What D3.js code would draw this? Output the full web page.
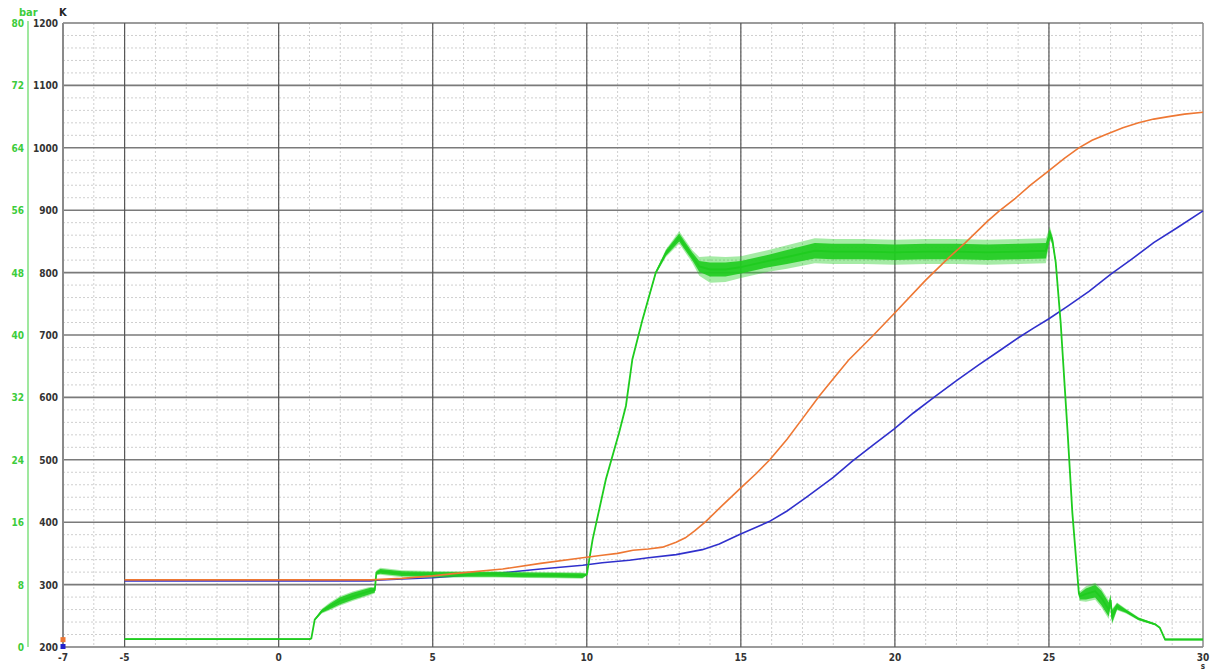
<!DOCTYPE html>
<html>
<head>
<meta charset="utf-8">
<script src="https://cdn.jsdelivr.net/npm/d3@7"></script>
<style>
  body { margin: 0; background: #fff; }
  text { font-family: "DejaVu Sans Condensed", "DejaVu Sans", sans-serif; font-weight: bold; font-size: 10px; }
</style>
</head>
<body>
<svg id="chart" width="1210" height="670"></svg>
<script>
// x axis (s)
const xTickLabels = [-7, -5, 0, 5, 10, 15, 20, 25, 30];
// left axes
const kelvinTicks = [200, 300, 400, 500, 600, 700, 800, 900, 1000, 1100, 1200];
const barTicks = [0, 8, 16, 24, 32, 40, 48, 56, 64, 72, 80];

// orange temperature (K)
const orangeTime = [-5, 3, 4, 5, 5.76, 7.27, 8.5, 9.87, 10.5, 11, 11.5, 12, 12.46, 12.9, 13.2, 13.5, 13.86, 14.4, 15, 15.5, 15.94, 16.5, 17, 17.54, 18, 18.5, 19.27, 19.97, 21, 21.75, 22.29, 23, 23.37, 23.91, 24.4, 24.94, 25.5, 25.97, 26.4, 26.83, 27.4, 27.91, 28.4, 28.88, 29.4, 30];
const orangeTemp = [307.5, 307.5, 310, 314, 318, 325, 334, 343, 347, 350, 355, 357, 360, 368, 375, 386, 401, 427, 455, 478, 500, 533, 566, 602, 630, 660, 698, 734, 788, 824, 848, 882, 898, 919, 940, 961, 983, 1000, 1012, 1021, 1032, 1040, 1046, 1050, 1054, 1057];

// blue temperature (K)
const blueTime = [-5, 3, 3.17, 4, 5, 6, 7.27, 8.5, 9.87, 10.5, 11.38, 12, 12.9, 13.75, 14.3, 14.94, 15.92, 16.5, 17.1, 17.54, 18, 18.62, 19.3, 19.97, 20.6, 21.32, 22, 22.72, 23.37, 24.02, 24.5, 25, 25.6, 26.3, 27, 27.7, 28.4, 29.2, 30];
const blueTemp = [306, 306, 307, 309, 311, 314.5, 319, 325, 331, 335, 339, 343, 348, 356, 365, 380, 401, 418, 439, 455, 472, 498, 524, 549, 575, 602, 627, 652, 674, 696, 711, 726, 746, 770, 797, 822, 848, 873, 899];

// green pressure (bar): middle of the trace, half-width of the dense noise, half-width of the spikes
const pressureTime = [-5, 1.0, 1.06, 1.17, 1.4, 1.66, 1.98, 2.4, 2.95, 3.12, 3.17, 3.3, 4, 5, 6, 7, 8, 9, 9.86, 10.0, 10.19, 10.62, 11.05, 11.27, 11.48, 11.81, 12.24, 12.57, 13.0, 13.42, 13.65, 14.0, 14.5, 15.0, 15.9, 16.5, 17.4, 18, 19, 20, 21, 22, 23, 24, 24.9, 25.03, 25.11, 25.22, 25.38, 25.6, 25.76, 25.97, 26.0, 26.2, 26.5, 26.7, 26.94, 27.0, 27.05, 27.21, 27.5, 27.91, 28.45, 28.6, 28.77, 30];
const pressureMid = [1.0, 1.0, 1.1, 3.5, 4.6, 5.2, 5.9, 6.5, 7.15, 7.3, 9.5, 9.7, 9.4, 9.3, 9.3, 9.3, 9.25, 9.2, 9.15, 9.3, 13.8, 21.5, 27.5, 30.9, 36.9, 42, 48, 50.5, 52.5, 50.1, 48.8, 48.4, 48.4, 48.7, 49.5, 50.0, 50.8, 50.7, 50.7, 50.6, 50.7, 50.7, 50.6, 50.7, 50.8, 53.0, 52.2, 49.3, 41.6, 27.9, 17.2, 6.95, 6.5, 6.8, 7.15, 6.3, 4.8, 6.0, 3.9, 5.2, 4.6, 3.6, 2.9, 2.46, 0.96, 0.96];
const pressureNoise = [0.1, 0.1, 0.1, 0.1, 0.2, 0.35, 0.45, 0.45, 0.4, 0.3, 0.2, 0.3, 0.3, 0.3, 0.3, 0.3, 0.3, 0.3, 0.3, 0.1, 0.1, 0.1, 0.1, 0.1, 0.1, 0.1, 0.15, 0.35, 0.5, 0.5, 0.7, 0.9, 0.9, 0.8, 0.8, 0.9, 1.0, 1.0, 1.0, 1.0, 1.0, 1.0, 1.0, 1.0, 1.0, 0.6, 0.4, 0.2, 0.1, 0.1, 0.1, 0.2, 0.4, 0.7, 0.8, 0.9, 0.9, 0.6, 0.8, 0.4, 0.2, 0.15, 0.1, 0.1, 0.1, 0.1];
const pressureSpikes = [0.1, 0.1, 0.1, 0.1, 0.3, 0.5, 0.6, 0.6, 0.55, 0.4, 0.3, 0.45, 0.45, 0.45, 0.4, 0.4, 0.4, 0.4, 0.4, 0.1, 0.1, 0.1, 0.1, 0.1, 0.1, 0.1, 0.2, 0.5, 0.8, 0.8, 1.2, 1.7, 1.6, 1.4, 1.4, 1.5, 1.6, 1.6, 1.6, 1.6, 1.6, 1.6, 1.6, 1.6, 1.6, 0.9, 0.6, 0.3, 0.1, 0.1, 0.1, 0.3, 0.6, 1.0, 1.1, 1.2, 1.2, 0.8, 1.0, 0.5, 0.3, 0.2, 0.1, 0.1, 0.1, 0.1];

// small start markers at the left edge
const markerTime = [-7, -7];
const markerTemp = [211, 200];
const markerColors = ['#ee7733', '#2222cc'];

const svg = d3.select('#chart');
const plotLeft = 63, plotRight = 1203, plotTop = 23, plotBottom = 647;

const x = d3.scaleLinear().domain([-7, 30]).range([plotLeft, plotRight]);
const yK = d3.scaleLinear().domain([200, 1200]).range([plotBottom, plotTop]);
const yBar = d3.scaleLinear().domain([0, 80]).range([plotBottom, plotTop]);

// minor grid
const grid = svg.append('g');
grid.selectAll('.vminor')
  .data(d3.range(-6, 30, 1))
  .enter().append('line')
  .attr('x1', d => x(d)).attr('x2', d => x(d))
  .attr('y1', plotTop).attr('y2', plotBottom)
  .attr('stroke', '#cfcfcf').attr('stroke-width', 1).attr('stroke-dasharray', '2,2');
grid.selectAll('.hminor')
  .data(d3.range(220, 1200, 20).filter(d => d % 100 !== 0))
  .enter().append('line')
  .attr('x1', plotLeft).attr('x2', plotRight)
  .attr('y1', d => yK(d)).attr('y2', d => yK(d))
  .attr('stroke', '#cfcfcf').attr('stroke-width', 1).attr('stroke-dasharray', '2,2');

// major grid
grid.selectAll('.hmajor')
  .data(kelvinTicks)
  .enter().append('line')
  .attr('x1', plotLeft).attr('x2', plotRight)
  .attr('y1', d => yK(d)).attr('y2', d => yK(d))
  .attr('stroke', '#7a7a7a').attr('stroke-width', 1.6);
grid.selectAll('.vmajor')
  .data(xTickLabels.filter(d => d > -7 && d < 30))
  .enter().append('line')
  .attr('x1', d => x(d)).attr('x2', d => x(d))
  .attr('y1', plotTop).attr('y2', plotBottom)
  .attr('stroke', '#555').attr('stroke-width', 1.2);
// frame sides
grid.append('line').attr('x1', plotLeft).attr('x2', plotLeft).attr('y1', plotTop).attr('y2', plotBottom)
  .attr('stroke', '#8a8a8a').attr('stroke-width', 2);
grid.append('line').attr('x1', plotRight).attr('x2', plotRight).attr('y1', plotTop).attr('y2', plotBottom)
  .attr('stroke', '#8a8a8a').attr('stroke-width', 1.5);

// lines
const lineK = (times, vals) => d3.line().x((d, i) => x(times[i])).y(d => yK(d))(vals);

svg.append('path')
  .attr('d', lineK(blueTime, blueTemp))
  .attr('fill', 'none').attr('stroke', '#3030cc').attr('stroke-width', 1.6);

const bandArea = (half) => d3.area()
  .x((d, i) => x(pressureTime[i]))
  .y0((d, i) => yBar(d - half[i]))
  .y1((d, i) => yBar(d + half[i]));
svg.append('path')
  .attr('d', bandArea(pressureSpikes)(pressureMid))
  .attr('fill', '#1fcc1f').attr('fill-opacity', 0.4);
svg.append('path')
  .attr('d', bandArea(pressureNoise)(pressureMid))
  .attr('fill', '#1fcc1f').attr('fill-opacity', 0.9);
svg.append('path')
  .attr('d', d3.line().x((d, i) => x(pressureTime[i])).y(d => yBar(d))(pressureMid))
  .attr('fill', 'none').attr('stroke', '#1fcc1f').attr('stroke-width', 1.8);

svg.append('path')
  .attr('d', lineK(orangeTime, orangeTemp))
  .attr('fill', 'none').attr('stroke', '#ee7733').attr('stroke-width', 1.6);

// markers
svg.selectAll('.marker')
  .data(markerTemp)
  .enter().append('rect')
  .attr('x', (d, i) => x(markerTime[i]) - 2.5)
  .attr('y', d => yK(d) - 3)
  .attr('width', 5).attr('height', 5)
  .attr('fill', (d, i) => markerColors[i]);

// K axis labels
svg.selectAll('.klab')
  .data(kelvinTicks)
  .enter().append('text')
  .attr('x', 58).attr('y', d => yK(d) + 4)
  .attr('text-anchor', 'end').attr('fill', '#333')
  .text(d => d);
svg.append('text').attr('x', 59).attr('y', 16).attr('fill', '#222').style('font-size', '11px').text('K');

// bar axis
svg.append('line').attr('x1', 28).attr('x2', 28).attr('y1', plotTop - 2).attr('y2', plotBottom)
  .attr('stroke', '#9fe89f').attr('stroke-width', 2);
svg.selectAll('.blab')
  .data(barTicks)
  .enter().append('text')
  .attr('x', 24).attr('y', d => yBar(d) + 4)
  .attr('text-anchor', 'end').attr('fill', '#3ccc3c')
  .text(d => d);
svg.append('text').attr('x', 19).attr('y', 16).attr('fill', '#3ccc3c').style('font-size', '11px').text('bar');

// x axis labels
svg.selectAll('.xlab')
  .data(xTickLabels)
  .enter().append('text')
  .attr('x', d => x(d)).attr('y', 661)
  .attr('text-anchor', 'middle').attr('fill', '#333')
  .text(d => d);
svg.append('text').attr('x', x(30)).attr('y', 669).attr('text-anchor', 'middle')
  .attr('fill', '#333').style('font-size', '8px').text('s');
</script>
</body>
</html>
